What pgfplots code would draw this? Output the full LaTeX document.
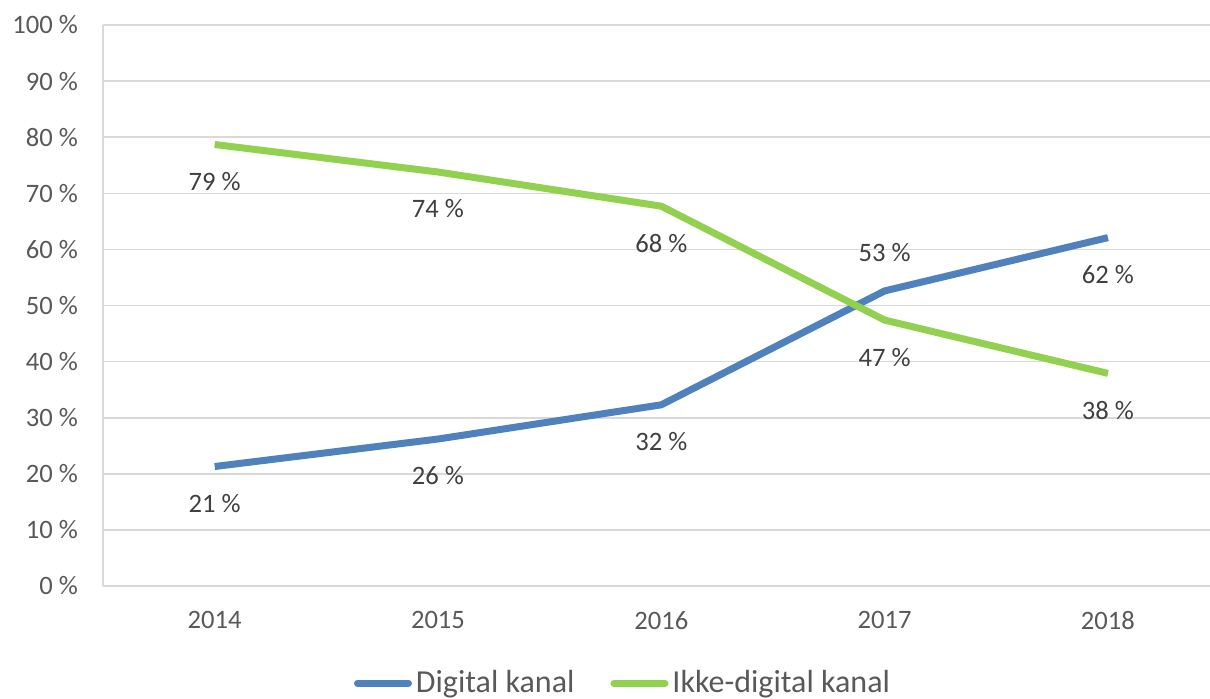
\documentclass[border=0pt]{standalone}
\usepackage{fontspec}
\setmainfont{Carlito}
\usepackage{pgfplots}
\pgfplotsset{compat=1.18}
\definecolor{digblue}{HTML}{4F81BD}
\definecolor{ikkegreen}{HTML}{92D050}
\definecolor{gridgrey}{HTML}{D9D9D9}
\definecolor{txtgrey}{HTML}{595959}
\definecolor{lblgrey}{HTML}{404040}

\pgfplotstableread{
x y lbl
0 21.3 21
1 26.2 26
2 32.3 32
3 52.6 53
4 62.1 62
}\digital
\pgfplotstableread{
x y lbl
0 78.7 79
1 73.8 74
2 67.7 68
3 47.4 47
4 37.9 38
}\ikke

\pgfplotsset{
  lbl/.style={draw=none, no markers, forget plot, point meta=explicit,
    nodes near coords={\pgfmathprintnumber{\pgfplotspointmeta} \%},
    every node near coord/.append style={anchor=center, font=\fontsize{13.3}{15}\selectfont, text=lblgrey}},
}

\begin{document}
\begin{tikzpicture}
\useasboundingbox (-51.5pt,-56pt) rectangle (553.5pt,293pt);
\begin{axis}[
    at={(0,0)}, anchor=south west,
    scale only axis,
    width=553.5pt, height=280.5pt,
    xmin=-0.5, xmax=4.457,
    ymin=0, ymax=100,
    axis lines*=left,
    axis line style={draw=gridgrey, line width=0.8pt},
    ytick={0,10,...,100},
    ymajorgrids,
    grid style={gridgrey, line width=0.8pt},
    xtick={0,1,2,3,4},
    xticklabels={2014,2015,2016,2017,2018},
    major tick length=0pt,
    /pgf/number format/assume math mode=true,
    yticklabel={\pgfmathprintnumber{\tick} \%},
    tick label style={font=\fontsize{13.3}{15}\selectfont, text=txtgrey},
    yticklabel style={xshift=-9pt},
    xticklabel style={yshift=-9pt},
    legend style={
        at={(0.4706,-0.173)}, anchor=center,
        draw=none, fill=none,
        legend columns=2,
        font=\fontsize{16}{18}\selectfont,
        text=txtgrey,
        /tikz/every even column/.append style={column sep=16pt},
    },
    legend cell align=left,
    legend image code/.code={\draw[#1, line width=3.5pt, line cap=round] (0pt,0pt) -- (25.5pt,0pt);},
    clip=false,
]
\addplot[digblue, line width=3.5pt, line join=round, no markers] table[x=x, y=y] {\digital};
\addlegendentry{Digital kanal}
\addplot[ikkegreen, line width=3.5pt, line join=round, no markers] table[x=x, y=y] {\ikke};
\addlegendentry{Ikke-digital kanal}
% data labels
\addplot[lbl, every node near coord/.append style={yshift=-18.5pt}] table[x=x, y=y, meta=lbl] {
x y lbl
0 21.3 21
1 26.2 26
2 32.3 32
4 62.1 62
};
\addplot[lbl, every node near coord/.append style={yshift=19pt}] table[x=x, y=y, meta=lbl] {
x y lbl
3 52.6 53
};
\addplot[lbl, every node near coord/.append style={yshift=-18.5pt}] table[x=x, y=y, meta=lbl] {\ikke};
\end{axis}
\end{tikzpicture}
\end{document}
